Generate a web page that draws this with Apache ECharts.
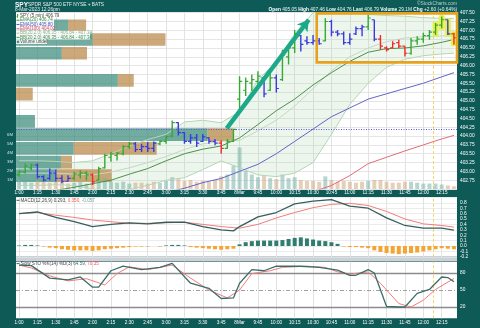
<!DOCTYPE html>
<html><head><meta charset="utf-8">
<script src="https://cdn.jsdelivr.net/npm/echarts@6/dist/echarts.min.js"></script>
<style>html,body{margin:0;padding:0;background:#0d5a57;}#c{width:480px;height:328px;}</style>
</head><body><div id="c"></div><script>
// ---------- DATA ----------
const times = ['1:00','1:05','1:10','1:15','1:20','1:25','1:30','1:35','1:40','1:45','1:50','1:55','2:00','2:05','2:10','2:15','2:20','2:25','2:30','2:35','2:40','2:45','2:50','2:55','3:00','3:05','3:10','3:15','3:20','3:25','3:30','3:35','3:40','3:45','3:50','3:55','9:30','9:35','9:40','9:45','9:50','9:55','10:00','10:05','10:10','10:15','10:20','10:25','10:30','10:35','10:40','10:45','10:50','10:55','11:00','11:05','11:10','11:15','11:20','11:25','11:30','11:35','11:40','11:45','11:50','11:55','12:00','12:05','12:10','12:15','12:20','12:25'];
const tickLabels = ['1:00','1:15','1:30','1:45','2:00','2:15','2:30','2:45','3:00','3:15','3:30','3:45','8Mar','9:45','10:00','10:15','10:30','10:45','11:00','11:15','11:30','11:45','12:00','12:15'];
const openP  = [402.90,402.98,403.10,403.18,402.85,402.80,402.95,402.80,402.72,402.80,402.90,402.95,402.90,402.75,403.10,403.40,403.45,403.50,403.70,403.78,403.62,403.70,403.65,403.78,403.85,404.00,404.38,404.10,403.85,403.95,403.85,403.95,403.85,403.80,403.65,403.85,
                405.05,405.30,405.50,405.55,405.65,405.30,405.65,405.60,406.25,406.50,406.85,406.70,406.65,406.70,406.70,407.25,406.95,406.90,406.65,406.90,407.05,407.10,407.30,406.75,406.50,406.50,406.65,406.55,406.35,406.70,406.75,406.85,406.95,407.15,407.30,406.90];
const closeP = [402.98,403.15,403.18,402.85,402.75,402.95,402.80,402.72,402.80,402.92,402.95,402.90,402.70,403.08,403.45,403.50,403.52,403.70,403.78,403.62,403.70,403.65,403.80,403.85,403.98,404.38,404.10,403.85,403.95,403.80,403.98,403.85,403.80,403.65,403.85,404.19,
                405.55,405.55,405.60,405.70,405.20,405.65,405.35,406.30,406.50,406.90,406.60,406.65,406.70,406.62,407.25,406.95,406.90,406.65,406.75,407.05,407.10,407.35,406.75,406.55,406.45,406.62,406.55,406.35,406.70,406.75,406.85,406.95,407.15,407.30,406.90,406.79];
const lowP   = [402.85,402.94,403.03,402.80,402.71,402.75,402.71,402.66,402.71,402.75,402.80,402.75,402.61,402.75,403.08,403.27,403.31,403.46,403.64,403.55,403.55,403.55,403.55,403.74,403.78,403.97,404.02,403.78,403.78,403.69,403.83,403.78,403.74,403.50,403.64,403.83,
                404.76,405.14,405.28,405.42,405.10,405.28,405.24,405.56,406.03,406.36,406.40,406.59,406.59,406.59,406.69,406.83,406.83,406.59,406.59,406.87,406.83,407.01,406.69,406.45,406.40,406.50,406.50,406.26,406.31,406.59,406.65,406.73,406.87,407.06,406.87,406.59];
const highP  = [403.03,403.22,403.22,403.22,402.89,403.08,403.05,402.89,402.89,402.99,403.03,403.00,402.94,403.13,403.50,403.55,403.55,403.74,403.83,403.83,403.78,403.83,403.85,403.88,404.02,404.44,404.39,404.11,404.06,404.06,404.06,403.97,403.92,403.88,403.92,404.20,
                405.70,405.66,405.75,405.84,405.66,405.80,405.75,406.45,406.59,407.01,406.87,406.83,406.87,406.78,407.34,407.30,407.01,406.97,406.92,407.11,407.16,407.44,407.30,406.87,406.55,406.69,406.73,406.55,406.78,406.83,406.93,407.01,407.21,407.39,407.30,406.93];
const barColor = ['g','g','g','b','b','b','b','b','b','g','g','g','r','g','g','g','g','g','g','b','b','b','b','g','g','g','b','b','b','b','b','b','b','r','g','g',
                  'g','g','g','g','b','g','b','g','g','g','b','b','b','b','g','b','b','b','b','b','b','g','b','r','r','r','r','r','g','g','g','g','g','g','b','r'];
const highlighted = [68,69,70,71];
const volumeM = [1.0,0.8,0.7,0.9,0.8,0.7,0.8,0.9,0.6,0.7,0.8,0.6,1.0,0.9,1.2,0.8,0.7,0.8,0.6,0.7,0.7,0.6,0.8,0.7,0.9,1.3,1.1,0.9,1.0,0.8,0.9,0.8,1.0,1.4,1.6,2.6,
                 4.6,2.0,1.6,1.3,1.5,1.2,1.1,1.6,1.2,1.3,1.0,0.9,0.9,0.8,1.4,1.0,0.8,0.9,0.8,0.7,0.8,0.9,1.0,1.0,0.8,0.7,0.7,0.8,0.8,0.7,0.6,0.6,0.6,0.5,0.4,0.3];
// volume-by-price bins
const vbpLow  = [406.95,406.56,406.17,405.40,405.01,404.24,403.86,403.47,403.08,402.70];
const vbpHigh = [407.31,406.92,406.53,405.76,405.37,404.60,404.22,403.83,403.44,403.06];
const vbpUp   = [11.8,17.4,10.4,23.1,0,4.3,43.4,13.1,10.2,9.0];
const vbpDown = [4.1,16.5,5.7,3.6,3.8,0,5.9,18.8,2.5,12.7];
// overlays, read at sample bars
const ovIdx   = [0,3,6,9,12,15,18,21,24,27,30,33,36,39,42,45,48,51,54,57,60,63,66,69,71];
const ema20   = [402.30,402.38,402.46,402.55,402.65,402.75,402.92,403.08,403.30,403.50,403.63,403.72,403.95,404.33,404.72,405.05,405.45,405.80,406.12,406.38,406.48,406.50,406.56,406.66,406.74];
const ema50   = [402.10,402.12,402.14,402.16,402.18,402.22,402.27,402.33,402.40,402.52,402.68,402.80,403.00,403.20,403.50,403.85,404.20,404.55,404.80,405.05,405.20,405.35,405.50,405.68,405.80];
const ema100  = [401.50,401.53,401.56,401.59,401.62,401.65,401.69,401.73,401.78,401.84,401.90,401.97,402.05,402.12,402.20,402.30,402.42,402.60,402.88,403.22,403.40,403.58,403.75,403.92,404.02];
const bbUpper = [403.30,403.30,403.28,403.25,403.30,403.50,403.72,403.90,404.05,404.40,404.45,404.38,404.70,405.60,406.10,406.90,407.50,407.60,407.50,407.45,407.42,407.40,407.36,407.34,407.34];
const bbMid   = [402.95,402.95,402.95,402.92,402.90,402.98,403.10,403.25,403.42,403.62,403.78,403.85,403.88,404.15,404.45,404.85,405.35,405.85,406.25,406.50,406.68,406.78,406.82,406.84,406.84];
const bbLower = [402.60,402.60,402.62,402.60,402.50,402.46,402.48,402.60,402.75,402.82,403.05,403.30,403.10,402.90,402.85,402.95,403.25,404.05,404.90,405.50,405.95,406.18,406.28,406.33,406.35];
const prevClose = 404.19;
// MACD
const macdIdx  = [0,3,6,9,12,15,18,21,24,27,30,33,35,36,39,42,45,48,51,54,57,60,63,66,69,71];
const macdLine = [0.60,0.63,0.53,0.45,0.36,0.40,0.43,0.41,0.44,0.44,0.36,0.30,0.28,0.36,0.54,0.62,0.78,0.83,0.86,0.74,0.70,0.52,0.38,0.33,0.33,0.293];
const macdSig  = [0.60,0.62,0.57,0.53,0.48,0.45,0.42,0.42,0.43,0.44,0.40,0.36,0.34,0.33,0.40,0.52,0.62,0.71,0.77,0.79,0.75,0.64,0.50,0.41,0.38,0.350];
const macdHist = [0.01,0.02,0.02,0.01,-0.01,-0.03,-0.04,-0.06,-0.07,-0.08,-0.08,-0.08,-0.09,-0.08,-0.06,-0.05,-0.04,-0.03,-0.02,-0.01,-0.01,-0.01,0.00,-0.01,0.01,0.02,0.02,0.01,-0.02,-0.03,-0.04,-0.05,-0.06,-0.07,-0.06,-0.05,
                  0.03,0.07,0.09,0.10,0.10,0.10,0.10,0.11,0.13,0.15,0.16,0.14,0.12,0.10,0.09,0.07,0.04,-0.01,-0.02,-0.02,-0.03,-0.04,-0.08,-0.11,-0.13,-0.14,-0.15,-0.14,-0.13,-0.12,-0.10,-0.08,-0.06,-0.04,-0.05,-0.06];
// Slow stochastic
const stoKIdx = [0,2,5,8,10,12,13,15,17,20,23,25,28,31,33,35,36,38,40,42,46,49,52,54,55,57,58,60,62,63,65,67,69,70,71];
const stoK    = [94,93,71,68,73,55,55,84,92,86,90,97,62,53,35,36,62,86,84,92,92,90,85,76,76,86,80,21,20,20,44,51,73,72,64.59];
const stoDIdx = [0,2,5,8,11,14,16,18,21,25,28,31,34,36,38,41,43,47,50,52,54,57,59,62,64,66,68,71];
const stoD    = [94,89,75,66,70,59,79,91,86,94,71,50,36,50,79,84,90,92,90,82,78,82,62,26,20,32,51,70.35];

// ---------- STYLE / BUILD ----------
const FONT = '"Liberation Sans", Arial, sans-serif';
const TEAL = '#0d5a57';
const COLORS = {g:'#35a935', b:'#3a3ae0', r:'#ee2a2a'};
const gridIdx = tickLabels.map((_, j) => j * 3);
const pairs = (idx, vals) => idx.map((x, j) => [x, vals[j]]);
const txt = (size, color, weight) => ({fontSize:size, fontFamily:FONT, fill:color, fontWeight:weight || 'normal'});

function renderOHLC(params, api) {
  const i = api.value(0);
  const o = api.coord([i, api.value(1)]);
  const c = api.coord([i, api.value(2)]);
  const l = api.coord([i, api.value(3)]);
  const h = api.coord([i, api.value(4)]);
  const col = COLORS[barColor[params.dataIndex]];
  const ch = [];
  if (highlighted.indexOf(params.dataIndex) >= 0) {
    ch.push({type:'rect', shape:{x:h[0]-3, y:h[1]-1.5, width:6, height:l[1]-h[1]+3, r:1.5}, style:{fill:'rgba(232,240,50,0.85)'}});
  }
  ch.push({type:'line', shape:{x1:h[0], y1:h[1], x2:l[0], y2:l[1]}, style:{stroke:col, lineWidth:1.4}});
  ch.push({type:'line', shape:{x1:o[0]-2.6, y1:o[1], x2:o[0], y2:o[1]}, style:{stroke:col, lineWidth:1.2}});
  ch.push({type:'line', shape:{x1:c[0], y1:c[1], x2:c[0]+2.6, y2:c[1]}, style:{stroke:col, lineWidth:1.2}});
  return {type:'group', children:ch};
}
function renderVBP(params, api) {
  const lo = api.value(0), hi = api.value(1), up = api.value(2), dn = api.value(3);
  const p0 = api.coord([0, hi]);
  const p1 = api.coord([up, lo]);
  const p2 = api.coord([up + dn, lo]);
  return {type:'group', children:[
    {type:'rect', shape:{x:p0[0], y:p0[1], width:p1[0]-p0[0], height:p1[1]-p0[1]}, style:{fill:'rgba(60,140,125,0.72)'}},
    {type:'rect', shape:{x:p1[0], y:p0[1], width:p2[0]-p1[0], height:p1[1]-p0[1]}, style:{fill:'rgba(185,135,70,0.72)'}}
  ]};
}
function renderBand(params, api) {
  if (params.dataIndex !== 0) return null;
  const pts = [];
  ovIdx.forEach((x, j) => pts.push(api.coord([x, bbUpper[j]])));
  for (let j = ovIdx.length - 1; j >= 0; j--) pts.push(api.coord([ovIdx[j], bbLower[j]]));
  return {type:'polygon', shape:{points:pts}, style:{fill:'rgba(175,215,175,0.22)'}};
}
function gridLines(xi, yi, extra) {
  return {type:'line', xAxisIndex:xi, yAxisIndex:yi, data:[], z:1, silent:true,
    markLine:{silent:true, symbol:['none','none'], z:1, animation:false, label:{show:false},
      lineStyle:{color:'#e2e2e2', width:1, type:'solid'},
      data: gridIdx.map(i => ({xAxis:i})).concat(extra || [])}};
}
const yellowLine = {xAxis:67.55, lineStyle:{color:'#f5d470', width:1, type:[3,2]}};
const lineS = (xi, yi, idx, vals, color, w, z) => ({type:'line', xAxisIndex:xi, yAxisIndex:yi, data:pairs(idx, vals),
  showSymbol:false, symbol:'none', lineStyle:{color:color, width:w}, z:z||3, silent:true});

const catAxis = (gi, showLabel) => ({type:'category', gridIndex:gi, data:times, boundaryGap:true,
  axisLine:{show:false}, axisTick:{show:false}, splitLine:{show:false},
  axisLabel:{show:showLabel, interval:0, color:'#ffffff', fontSize:4.6, margin:1.6, fontFamily:FONT,
    formatter:(v, idx) => idx % 3 === 0 ? tickLabels[idx / 3] : ''}});
const valX = (gi, mn, mx) => ({type:'value', gridIndex:gi, min:mn, max:mx, show:false, splitLine:{show:false}});

const option = {
  animation:false,
  backgroundColor:TEAL,
  textStyle:{fontFamily:FONT},
  grid:[
    {left:16, right:23, top:12.7, height:176.3, show:true, backgroundColor:'#fff', borderWidth:0},
    {left:16, right:23, top:197.4, height:59.4, show:true, backgroundColor:'#fff', borderWidth:0},
    {left:16, right:23, top:261.7, height:56.6, show:true, backgroundColor:'#fff', borderWidth:0}
  ],
  xAxis:[
    catAxis(0, true), catAxis(1, false), catAxis(2, true),
    valX(0, 0, 100), valX(0, -0.5, 71.5), valX(1, -0.5, 71.5), valX(2, -0.5, 71.5)
  ],
  yAxis:[
    {type:'value', gridIndex:0, position:'right', min:402.5, max:407.5, interval:0.25,
      axisLine:{show:false}, axisTick:{show:false},
      axisLabel:{color:'#fff', fontSize:4.8, margin:3, formatter:v => (v > 402.6 ? v.toFixed(2) : '')},
      splitLine:{lineStyle:{color:'#e6e6e6', width:1}}},
    {type:'value', gridIndex:0, position:'left', min:0, max:19.5, interval:1,
      axisLine:{show:false}, axisTick:{show:false}, splitLine:{show:false},
      axisLabel:{color:'#cfe3df', fontSize:4.3, margin:3, formatter:v => (v >= 1 && v <= 6 ? v + 'M' : '')}},
    {type:'value', gridIndex:1, position:'right', min:-0.2, max:0.9, interval:0.1,
      axisLine:{show:false}, axisTick:{show:false},
      axisLabel:{color:'#fff', fontSize:4.8, margin:3, formatter:v => (v < 0.85 ? v.toFixed(1) : '')},
      splitLine:{lineStyle:{color:'#ececec', width:1}}},
    {type:'value', gridIndex:2, position:'right', min:0, max:100, interval:10,
      axisLine:{show:false}, axisTick:{show:false}, splitLine:{show:false},
      axisLabel:{color:'#fff', fontSize:4.8, margin:3, formatter:v => (v === 20 || v === 50 || v === 80 ? String(v) : '')}}
  ],
  series:[
    gridLines(4, 0, [yellowLine]),
    gridLines(5, 2, [yellowLine]),
    gridLines(6, 3, [yellowLine,
      {yAxis:80, lineStyle:{color:'#8c8c8c', width:1.4, type:'solid'}},
      {yAxis:20, lineStyle:{color:'#8c8c8c', width:1.4, type:'solid'}},
      {yAxis:50, lineStyle:{color:'#a0a0a0', width:1, type:[4,2,1,2]}}]),
    {type:'custom', xAxisIndex:4, yAxisIndex:0, renderItem:renderBand, data:[[0, bbMid[0]]], clip:true, z:1.5, silent:true},
    {type:'custom', xAxisIndex:3, yAxisIndex:0, renderItem:renderVBP, clip:true, z:2, silent:true,
      encode:{x:[2,3], y:[0,1]},
      data: vbpLow.map((v, j) => [vbpLow[j], vbpHigh[j], vbpUp[j], vbpDown[j]])},
    {type:'bar', xAxisIndex:0, yAxisIndex:1, barWidth:4, z:2, silent:true,
      data: volumeM.map((v, i) => ({value:v, itemStyle:{color: barColor[i] === 'g' ? 'rgba(120,178,165,0.55)' : 'rgba(208,168,128,0.55)'}}))},
    lineS(4, 0, ovIdx, bbUpper, '#b5d6b5', 1, 2.5),
    lineS(4, 0, ovIdx, bbLower, '#b5d6b5', 1, 2.5),
    lineS(4, 0, ovIdx, bbMid, '#c4d8c4', 1, 2.5),
    lineS(4, 0, ovIdx, ema100, '#e56a78', 1, 3),
    lineS(4, 0, ovIdx, ema50, '#6464c8', 1, 3),
    lineS(4, 0, ovIdx, ema20, '#4a924a', 1, 3),
    {type:'custom', xAxisIndex:4, yAxisIndex:0, renderItem:renderOHLC, clip:true, z:4, silent:true,
      encode:{x:0, y:[1,2,3,4]},
      data: times.map((t, i) => [i, openP[i], closeP[i], lowP[i], highP[i]])},
    {type:'line', xAxisIndex:4, yAxisIndex:0, data:[], z:6, silent:true,
      markLine:{silent:true, animation:false, z:6, label:{show:false}, symbol:['none','none'],
        data:[
          {yAxis:prevClose, lineStyle:{color:'#5a5ad8', width:1, type:[1,1.5]}},
          [{coord:[33.9, 404.22], symbol:'none'}, {coord:[47.3, 407.30], symbol:'arrow', symbolSize:[10,11]}]
        ],
        lineStyle:{color:'#1ea88a', width:4.5, type:'solid'}},
      markArea:{silent:true, z:6, label:{show:false},
        itemStyle:{color:'rgba(0,0,0,0)', borderColor:'#e6a21c', borderWidth:2.6},
        data:[[{coord:[48.6, 407.48]}, {coord:[71.5, 406.09]}]]}},
    // MACD
    {type:'bar', xAxisIndex:1, yAxisIndex:2, barWidth:4, z:2, silent:true,
      data: macdHist.map(v => ({value:v, itemStyle:{color: v >= 0 ? '#2f7d6e' : '#f3a432'}}))},
    lineS(5, 2, macdIdx, macdSig, '#f47c7c', 1, 3),
    lineS(5, 2, macdIdx, macdLine, '#355f5d', 1.3, 3),
    // Stochastics
    lineS(6, 3, stoDIdx, stoD, '#f47c7c', 1, 3),
    lineS(6, 3, stoKIdx, stoK, '#3c6e69', 1.3, 3)
  ],
  graphic:[
    {type:'text', x:15, y:4.8, z:100, style:Object.assign({text:'SPY', verticalAlign:'middle'}, txt(6.5, '#fff', 'bold'))},
    {type:'text', x:28, y:4.8, z:100, style:Object.assign({text:'SPDR S&P 500 ETF NYSE + BATS', verticalAlign:'middle'}, txt(4.8, '#e6efed'))},
    {type:'text', x:15, y:10, z:100, style:Object.assign({text:'8-Mar-2023 12:26pm', verticalAlign:'middle'}, txt(4.8, '#e6efed'))},
    {type:'text', x:457, y:4, z:100, style:Object.assign({text:'\u00a9StockCharts.com', align:'right', verticalAlign:'middle'}, txt(4.8, '#b9cfcc'))},
    {type:'text', x:457, y:9.8, z:100, style:Object.assign({
      text:'{b|Open} {n|405.05} {b|High} {n|407.46} {b|Low} {n|404.76} {b|Last} {n|406.79} {b|Volume} {n|29.1M} {b|Chg} {n|+2.60 (+0.64%)}',
      align:'right', verticalAlign:'middle',
      rich:{b:txt(4.8, '#ffffff', 'bold'), n:txt(4.8, '#eef4f3')}}, txt(4.8, '#eef4f3'))},
    // separator between MACD and stochastics
    {type:'rect', z:100, shape:{x:16, y:257.4, width:441, height:3.9}, style:{fill:'#cfd0d8'}},
    // price legend
    {type:'rect', z:100, shape:{x:16, y:13.2, width:38, height:17.5}, style:{fill:'rgba(255,255,255,0.92)'}},
    {type:'rect', z:100, shape:{x:16, y:30.7, width:74, height:8.8}, style:{fill:'rgba(255,255,255,0.92)'}},
    {type:'rect', z:100, shape:{x:16, y:39.5, width:31, height:4.4}, style:{fill:'rgba(255,255,255,0.92)'}},
    {type:'line', z:101, shape:{x1:17.5, y1:14, x2:17.5, y2:17.8}, style:{stroke:'#35a935', lineWidth:1}},
    {type:'line', z:101, shape:{x1:16.5, y1:16.7, x2:17.5, y2:16.7}, style:{stroke:'#35a935', lineWidth:0.8}},
    {type:'line', z:101, shape:{x1:17.5, y1:15, x2:18.5, y2:15}, style:{stroke:'#35a935', lineWidth:0.8}},
    {type:'text', x:20, y:15.9, z:101, style:Object.assign({text:'SPY (5 min) 406.79', verticalAlign:'middle'}, txt(4.5, '#444'))},
    {type:'line', z:101, shape:{x1:16.5, y1:20.2, x2:19.5, y2:20.2}, style:{stroke:'#4a924a', lineWidth:1}},
    {type:'text', x:20, y:20.2, z:101, style:Object.assign({text:'EMA(20) 406.74', verticalAlign:'middle'}, txt(4.5, '#3d8a3d'))},
    {type:'line', z:101, shape:{x1:16.5, y1:24.5, x2:19.5, y2:24.5}, style:{stroke:'#5a5ad0', lineWidth:1}},
    {type:'text', x:20, y:24.5, z:101, style:Object.assign({text:'EMA(50) 405.80', verticalAlign:'middle'}, txt(4.5, '#4e4ec4'))},
    {type:'line', z:101, shape:{x1:16.5, y1:28.8, x2:19.5, y2:28.8}, style:{stroke:'#e05a6a', lineWidth:1}},
    {type:'text', x:20, y:28.8, z:101, style:Object.assign({text:'EMA(100) 404.02', verticalAlign:'middle'}, txt(4.5, '#e04a5a'))},
    {type:'line', z:101, shape:{x1:16.5, y1:33.1, x2:19.5, y2:33.1}, style:{stroke:'#a9c9a9', lineWidth:1}},
    {type:'text', x:20, y:33.1, z:101, style:Object.assign({text:'BB(20,2.0) 406.35 - 406.84 - 407.34', verticalAlign:'middle'}, txt(4.5, '#8fae8f'))},
    {type:'line', z:101, shape:{x1:16.5, y1:37.4, x2:19.5, y2:37.4}, style:{stroke:'#4a9a4a', lineWidth:1}},
    {type:'text', x:20, y:37.4, z:101, style:Object.assign({text:'BB(20,2.0) 406.35 - 406.84 - 407.34', verticalAlign:'middle'}, txt(4.5, '#4a8f4a'))},
    {type:'rect', z:101, shape:{x:16.8, y:40.6, width:2.4, height:2.4}, style:{fill:'#3f8f82'}},
    {type:'text', x:20, y:41.7, z:101, style:Object.assign({text:'Volume undef', verticalAlign:'middle'}, txt(4.5, '#444'))},
    // MACD header
    {type:'line', z:101, shape:{x1:16.5, y1:200.3, x2:19.5, y2:200.3}, style:{stroke:'#355f5d', lineWidth:1}},
    {type:'text', x:20.5, y:200.3, z:101, style:Object.assign({
      text:'{a|MACD(12,26,9) 0.293,} {r|0.350,} {g|-0.057}', verticalAlign:'middle',
      rich:{a:txt(4.6, '#444'), r:txt(4.6, '#ee5a5a'), g:txt(4.6, '#6f9a95')}}, txt(4.6, '#444'))},
    // Stoch header
    {type:'line', z:101, shape:{x1:16.5, y1:263.6, x2:19.5, y2:263.6}, style:{stroke:'#3c6e69', lineWidth:1}},
    {type:'text', x:20.5, y:263.6, z:101, style:Object.assign({
      text:'{a|Slow STO %K(14) %D(3)} {g|64.59,} {r|70.35}', verticalAlign:'middle',
      rich:{a:txt(4.6, '#444'), r:txt(4.6, '#ee5a5a'), g:txt(4.6, '#3c6e69')}}, txt(4.6, '#444'))}
  ]
};
const chart = echarts.init(document.getElementById('c'), null, {renderer:'canvas', width:480, height:328});
chart.setOption(option);
</script></body></html>
